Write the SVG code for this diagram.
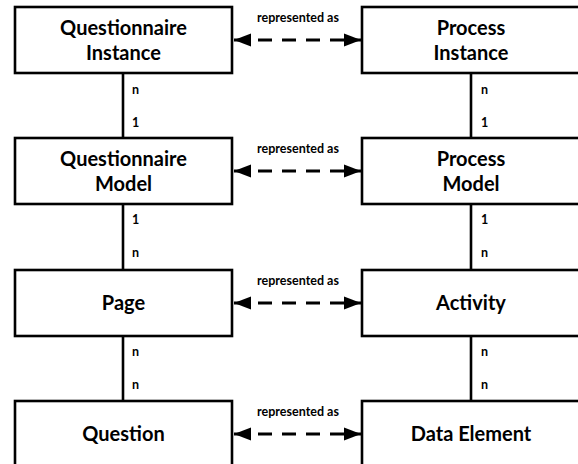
<svg xmlns="http://www.w3.org/2000/svg" width="578" height="464" viewBox="0 0 578 464">
<style>
.box{fill:#fff;stroke:#000;stroke-width:2.6}
.t{font-family:Lato,"Open Sans",sans-serif;font-weight:700;font-size:20px;text-anchor:middle;fill:#000}
.s{font-family:Lato,"Open Sans",sans-serif;font-weight:700;font-size:12.5px;fill:#000}
.m{text-anchor:middle}
.v{stroke:#000;stroke-width:2.6;fill:none}
.d{stroke:#000;stroke-width:3;fill:none;stroke-dasharray:14 10;marker-start:url(#ah);marker-end:url(#ah)}
</style>
<defs>
<marker id="ah" markerUnits="userSpaceOnUse" markerWidth="18" markerHeight="14" refX="17" refY="7" orient="auto-start-reverse">
<path d="M0,0.5 L17,7 L0,13.5 Z" fill="#000"/>
</marker>
</defs>
<rect width="578" height="464" fill="#fff"/>
<g id="connectors">
<line class="v" x1="123" y1="73" x2="123" y2="138"/>
<line class="v" x1="123" y1="204" x2="123" y2="270"/>
<line class="v" x1="123" y1="336" x2="123" y2="401"/>
<line class="v" x1="471" y1="73" x2="471" y2="138"/>
<line class="v" x1="471" y1="204" x2="471" y2="270"/>
<line class="v" x1="471" y1="336" x2="471" y2="401"/>
<path class="d" d="M234,40 H361"/>
<path class="d" d="M234,171 H361"/>
<path class="d" d="M234,303 H361"/>
<path class="d" d="M234,434 H361"/>
<text class="s m" x="298" y="22">represented as</text>
<text class="s m" x="298" y="153">represented as</text>
<text class="s m" x="298" y="285">represented as</text>
<text class="s m" x="298" y="416">represented as</text>
<text class="s" x="132" y="94">n</text>
<text class="s" x="132" y="127">1</text>
<text class="s" x="132" y="224">1</text>
<text class="s" x="132" y="257">n</text>
<text class="s" x="132" y="356">n</text>
<text class="s" x="132" y="389">n</text>
<text class="s" x="481" y="94">n</text>
<text class="s" x="481" y="127">1</text>
<text class="s" x="481" y="224">1</text>
<text class="s" x="481" y="257">n</text>
<text class="s" x="481" y="356">n</text>
<text class="s" x="481" y="389">n</text>
</g>
<g id="questionnaire-instance">
<rect class="box" x="15" y="7" width="217" height="66"/>
<text class="t" x="123.5" y="35">Questionnaire</text>
<text class="t" x="123.5" y="60">Instance</text>
</g>
<g id="process-instance">
<rect class="box" x="362" y="7" width="218" height="66"/>
<text class="t" x="471" y="35">Process</text>
<text class="t" x="471" y="60">Instance</text>
</g>
<g id="questionnaire-model">
<rect class="box" x="15" y="138" width="217" height="66"/>
<text class="t" x="123.5" y="166">Questionnaire</text>
<text class="t" x="123.5" y="191">Model</text>
</g>
<g id="process-model">
<rect class="box" x="362" y="138" width="218" height="66"/>
<text class="t" x="471" y="166">Process</text>
<text class="t" x="471" y="191">Model</text>
</g>
<g id="page">
<rect class="box" x="15" y="270" width="217" height="66"/>
<text class="t" x="123.5" y="310">Page</text>
</g>
<g id="activity">
<rect class="box" x="362" y="270" width="218" height="66"/>
<text class="t" x="471" y="310">Activity</text>
</g>
<g id="question">
<rect class="box" x="15" y="401" width="217" height="66"/>
<text class="t" x="123.5" y="441">Question</text>
</g>
<g id="data-element">
<rect class="box" x="362" y="401" width="218" height="66"/>
<text class="t" x="471" y="441">Data Element</text>
</g>
</svg>
